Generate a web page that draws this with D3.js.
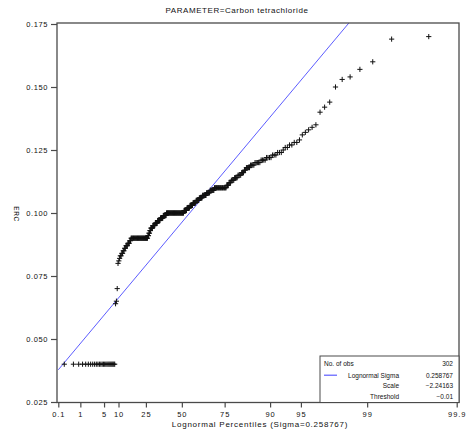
<!DOCTYPE html>
<html>
<head>
<meta charset="utf-8">
<script src="https://cdn.jsdelivr.net/npm/d3@7"></script>
<style>
  html, body { margin: 0; padding: 0; background: #fff; }
  svg { display: block; }
  .lab { font-family: "Liberation Sans", Arial, sans-serif; fill: #111; }
</style>
</head>
<body>
<svg id="chart" width="469" height="440"></svg>
<script>
// Carbon tetrachloride concentrations (sorted), stored as value / repeat count
const ercValues = [
  0.040, 0.064, 0.065, 0.070,
  0.080, 0.081, 0.082, 0.083, 0.084, 0.085, 0.086, 0.087, 0.088, 0.089,
  0.090, 0.091, 0.092, 0.093, 0.094, 0.095, 0.096, 0.097, 0.098, 0.099,
  0.100, 0.101, 0.102, 0.103, 0.104, 0.105, 0.106, 0.107, 0.108, 0.109,
  0.110, 0.111, 0.112, 0.113, 0.114, 0.115, 0.116, 0.117, 0.118, 0.119,
  0.120, 0.121, 0.122, 0.123, 0.124, 0.125, 0.126, 0.127, 0.128, 0.129,
  0.131, 0.132, 0.133, 0.134, 0.135, 0.140, 0.142, 0.144, 0.150, 0.153,
  0.154, 0.157, 0.160, 0.169, 0.170
];
const ercCounts = [
  26, 1, 1, 1,
  1, 1, 1, 2, 2, 2, 2, 3, 3, 2,
  31, 2, 2, 2, 4, 5, 5, 6, 6, 7,
  37, 6, 6, 6, 6, 6, 6, 7, 6, 7,
  18, 3, 3, 4, 4, 4, 3, 2, 4, 4,
  5, 4, 4, 3, 3, 1, 2, 2, 2, 1,
  1, 1, 1, 1, 1, 1, 1, 1, 1, 1,
  1, 1, 1, 1, 1
];

// Fitted lognormal parameters
const fitSigma = 0.258767;
const fitScale = -2.24163;
const fitThreshold = -0.01;

// Axis ticks
const percentTicks = [0.1, 1, 5, 10, 25, 50, 75, 90, 95, 99, 99.9];
const ercTicks = [0.025, 0.050, 0.075, 0.100, 0.125, 0.150, 0.175];

const titleText = "PARAMETER=Carbon tetrachloride";
const xTitle = "Lognormal Percentiles (Sigma=0.258767)";
const yTitle = "ERC";

// Inverse standard normal CDF (Acklam's rational approximation)
function normInv(p) {
  const a = [-3.969683028665376e+01, 2.209460984245205e+02, -2.759285104469687e+02,
             1.383577518672690e+02, -3.066479806614716e+01, 2.506628277459239e+00];
  const b = [-5.447609879822406e+01, 1.615858368580409e+02, -1.556989798598866e+02,
             6.680131188771972e+01, -1.328068155288572e+01];
  const c = [-7.784894002430293e-03, -3.223964580411365e-01, -2.400758277161838e+00,
             -2.549671348283180e+00, 4.374664141464968e+00, 2.938163982698783e+00];
  const d = [7.784695709041462e-03, 3.224671290700398e-01, 2.445134137142996e+00,
             3.754408661907416e+00];
  const pl = 0.02425, ph = 1 - pl;
  let q, r;
  if (p < pl) {
    q = Math.sqrt(-2 * Math.log(p));
    return (((((c[0]*q+c[1])*q+c[2])*q+c[3])*q+c[4])*q+c[5]) /
           ((((d[0]*q+d[1])*q+d[2])*q+d[3])*q+1);
  } else if (p <= ph) {
    q = p - 0.5; r = q * q;
    return (((((a[0]*r+a[1])*r+a[2])*r+a[3])*r+a[4])*r+a[5])*q /
           (((((b[0]*r+b[1])*r+b[2])*r+b[3])*r+b[4])*r+1);
  } else {
    q = Math.sqrt(-2 * Math.log(1 - p));
    return -(((((c[0]*q+c[1])*q+c[2])*q+c[3])*q+c[4])*q+c[5]) /
            ((((d[0]*q+d[1])*q+d[2])*q+d[3])*q+1);
  }
}
// Standard lognormal quantile for a percentile
const lnq = pct => Math.exp(fitSigma * normInv(pct / 100));

// Expand the sorted sample and attach Blom plotting positions
const sample = [];
ercValues.forEach((v, k) => { for (let j = 0; j < ercCounts[k]; j++) sample.push(v); });
const n = sample.length;
const points = sample.map((v, i) => {
  const p = (i + 1 - 0.375) / (n + 0.25);
  return { q: Math.exp(fitSigma * normInv(p)), v };
});

const svg = d3.select("#chart");
const frame = { left: 57, right: 459, top: 23, bottom: 402.5 };

const x = d3.scaleLinear()
  .domain([lnq(0.1), lnq(99.9)])
  .range([58.3, 456.7]);
const y = d3.scaleLinear()
  .domain([0.025, 0.175])
  .range([402, 24]);

svg.append("defs").append("clipPath").attr("id", "plotClip")
  .append("rect")
  .attr("x", frame.left).attr("y", frame.top)
  .attr("width", frame.right - frame.left).attr("height", frame.bottom - frame.top);

// Title
svg.append("text").attr("class", "lab")
  .attr("x", 237).attr("y", 12.5)
  .attr("text-anchor", "middle")
  .attr("font-size", 8).attr("letter-spacing", 0.55)
  .text(titleText);

// Fitted reference line: ERC = threshold + exp(scale) * lognormal quantile
const qLeft = x.invert(frame.left), qRight = x.invert(frame.right);
const lineFn = q => fitThreshold + Math.exp(fitScale) * q;
svg.append("line")
  .attr("clip-path", "url(#plotClip)")
  .attr("x1", x(lnq(0.1))).attr("y1", y(lineFn(lnq(0.1))))
  .attr("x2", x(qRight)).attr("y2", y(lineFn(qRight)))
  .attr("stroke", "#5c5cff").attr("stroke-width", 1);

// Data markers
const arm = 2.6;
svg.append("g").attr("clip-path", "url(#plotClip)")
  .selectAll("path").data(points).join("path")
  .attr("d", d => {
    const cx = x(d.q), cy = y(d.v);
    return `M${cx - arm},${cy}H${cx + arm}M${cx},${cy - arm}V${cy + arm}`;
  })
  .attr("stroke", "#111").attr("stroke-width", 1).attr("fill", "none");

// Frame
svg.append("rect")
  .attr("x", frame.left).attr("y", frame.top)
  .attr("width", frame.right - frame.left).attr("height", frame.bottom - frame.top)
  .attr("fill", "none").attr("stroke", "#4a4a4a").attr("stroke-width", 1.3);

// Y axis
const yAxis = svg.append("g")
  .attr("transform", `translate(${frame.left},0)`)
  .call(d3.axisLeft(y).tickValues(ercTicks).tickFormat(d3.format(".3f")).tickSize(6).tickPadding(3));
yAxis.select(".domain").remove();
yAxis.selectAll("line").attr("stroke", "#4a4a4a").attr("stroke-width", 1.2);
yAxis.selectAll("text").attr("class", "lab")
  .attr("font-size", 7.5).attr("letter-spacing", 0.6).attr("font-family", "Liberation Sans, Arial, sans-serif");

// X axis
const xAxis = svg.append("g")
  .attr("transform", `translate(0,${frame.bottom})`)
  .call(d3.axisBottom(x).tickValues(percentTicks.map(lnq))
    .tickFormat((d, i) => String(percentTicks[i])).tickSize(5).tickPadding(4));
xAxis.select(".domain").remove();
xAxis.selectAll("line").attr("stroke", "#4a4a4a").attr("stroke-width", 1.2);
xAxis.selectAll("text").attr("class", "lab")
  .attr("font-size", 7.5).attr("letter-spacing", 0.9).attr("font-family", "Liberation Sans, Arial, sans-serif");

// Axis titles
svg.append("text").attr("class", "lab")
  .attr("x", 260).attr("y", 427)
  .attr("text-anchor", "middle")
  .attr("font-size", 8).attr("letter-spacing", 0.75)
  .text(xTitle);
svg.append("text").attr("class", "lab")
  .attr("transform", "translate(14,214) rotate(90)")
  .attr("text-anchor", "middle")
  .attr("font-size", 6.5).attr("letter-spacing", 0.6)
  .text(yTitle);

// Inset with fit summary
const inset = { x: 320, y: 356, w: frame.right - 320, h: frame.bottom - 356 };
svg.append("rect")
  .attr("x", inset.x).attr("y", inset.y).attr("width", inset.w).attr("height", inset.h)
  .attr("fill", "#fff").attr("stroke", "#4a4a4a").attr("stroke-width", 1);
const rowsY = [366, 377.5, 388, 398.5];
const g = svg.append("g").attr("class", "lab").attr("font-size", 6.5);
g.append("text").attr("x", 324).attr("y", rowsY[0]).text("No. of obs");
g.append("text").attr("x", 453).attr("y", rowsY[0]).attr("text-anchor", "end").text(String(n));
g.append("line").attr("x1", 324).attr("x2", 337).attr("y1", rowsY[1] - 2.3).attr("y2", rowsY[1] - 2.3)
  .attr("stroke", "#5c5cff").attr("stroke-width", 1.2);
g.append("text").attr("x", 399).attr("y", rowsY[1]).attr("text-anchor", "end").text("Lognormal Sigma");
g.append("text").attr("x", 453).attr("y", rowsY[1]).attr("text-anchor", "end").text(String(fitSigma));
g.append("text").attr("x", 399).attr("y", rowsY[2]).attr("text-anchor", "end").text("Scale");
g.append("text").attr("x", 453).attr("y", rowsY[2]).attr("text-anchor", "end").text(String(fitScale).replace("-", "\u2212"));
g.append("text").attr("x", 399).attr("y", rowsY[3]).attr("text-anchor", "end").text("Threshold");
g.append("text").attr("x", 453).attr("y", rowsY[3]).attr("text-anchor", "end").text(String(fitThreshold).replace("-", "\u2212"));
</script>
</body>
</html>
